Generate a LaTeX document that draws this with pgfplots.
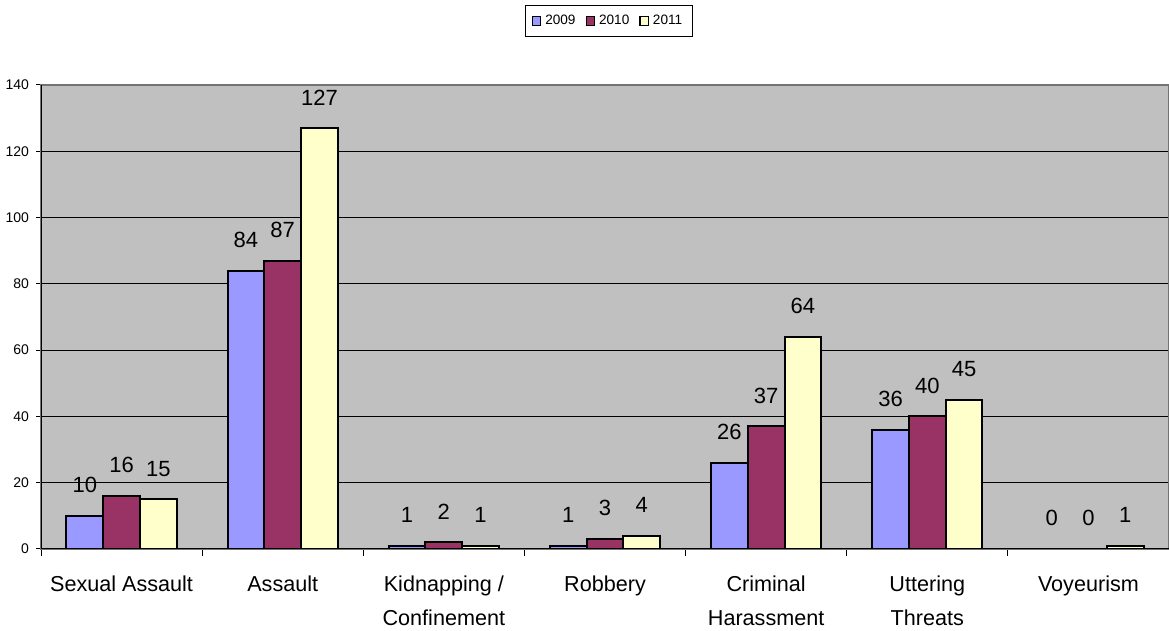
\documentclass[border=0pt]{standalone}
\usepackage{fontspec}
\setmainfont{Liberation Sans}
\usepackage{pgfplots}
\usepackage{pgfplotstable}
\pgfplotsset{compat=1.18}

\definecolor{c2009}{HTML}{9999FF}
\definecolor{c2010}{HTML}{993366}
\definecolor{c2011}{HTML}{FFFFCC}
\definecolor{plotbg}{HTML}{C0C0C0}

% incidents by offence type and year
\pgfplotstableread{
cat y2009 y2010 y2011
0   10    16    15
1   84    87    127
2   1     2     1
3   1     3     4
4   26    37    64
5   36    40    45
6   0     0     1
}\crimes

% small outlined square as legend key
\pgfplotsset{legsq/.style={legend image code/.code={\draw[fill=#1, draw=black, line width=0.6pt] (0pt,-2.1pt) rectangle (4.2pt,2.1pt);}}}

\begin{document}
\begin{tikzpicture}
\useasboundingbox (0,0) rectangle (584.5pt,315.5pt);
\begin{axis}[
  at={(20.5pt,41pt)}, anchor=south west,
  scale only axis, width=564pt, height=232pt,
  xmin=-0.5, xmax=6.5, ymin=0, ymax=140,
  ybar, bar width=0.228,
  ytick={0,20,...,140},
  xtick={0,...,6},
  xticklabels={Sexual Assault, Assault, {Kidnapping /\\Confinement}, Robbery, {Criminal\\Harassment}, {Uttering\\Threats}, Voyeurism},
  minor xtick={-0.5,0.5,...,6.5},
  every major x tick/.append style={draw=none},
  tick align=outside, xtick pos=left, ytick pos=left,
  major tick length=2.5pt, minor tick length=3.5pt,
  tick style={black, line width=0.5pt},
  ymajorgrids, grid style={black, line width=0.5pt},
  axis background/.style={fill=plotbg},
  axis line style={draw=black!55, line width=0.7pt},
  /pgf/number format/assume math mode=true,
  yticklabel style={font=\fontsize{7}{8}\selectfont},
  xticklabel style={font=\fontsize{10.8}{17}\selectfont, align=center, yshift=-7.5pt},
  nodes near coords,
  every node near coord/.append style={font=\fontsize{11}{13}\selectfont, black, inner sep=0pt, yshift=11pt},
  legend style={at={(0.5035,1.172)}, anchor=north, legend columns=-1, draw=black, line width=0.5pt,
    font=\fontsize{6.8}{7}\selectfont, inner xsep=3pt, inner ysep=2.5pt,
    /tikz/every even column/.append style={column sep=3pt}},
]
\addplot[fill=c2009, draw=black, line width=1pt, bar shift=-0.228, legsq=c2009] table[x=cat, y=y2009] {\crimes};
\addplot[fill=c2010, draw=black, line width=1pt, bar shift=0, legsq=c2010] table[x=cat, y=y2010] {\crimes};
\addplot[fill=c2011, draw=black, line width=1pt, bar shift=0.228, legsq=c2011] table[x=cat, y=y2011] {\crimes};
\legend{2009, 2010, 2011}
\draw[black, line width=0.7pt] (rel axis cs:0,1) -- (rel axis cs:0,0) -- (rel axis cs:1,0);
\end{axis}
\end{tikzpicture}
\end{document}
